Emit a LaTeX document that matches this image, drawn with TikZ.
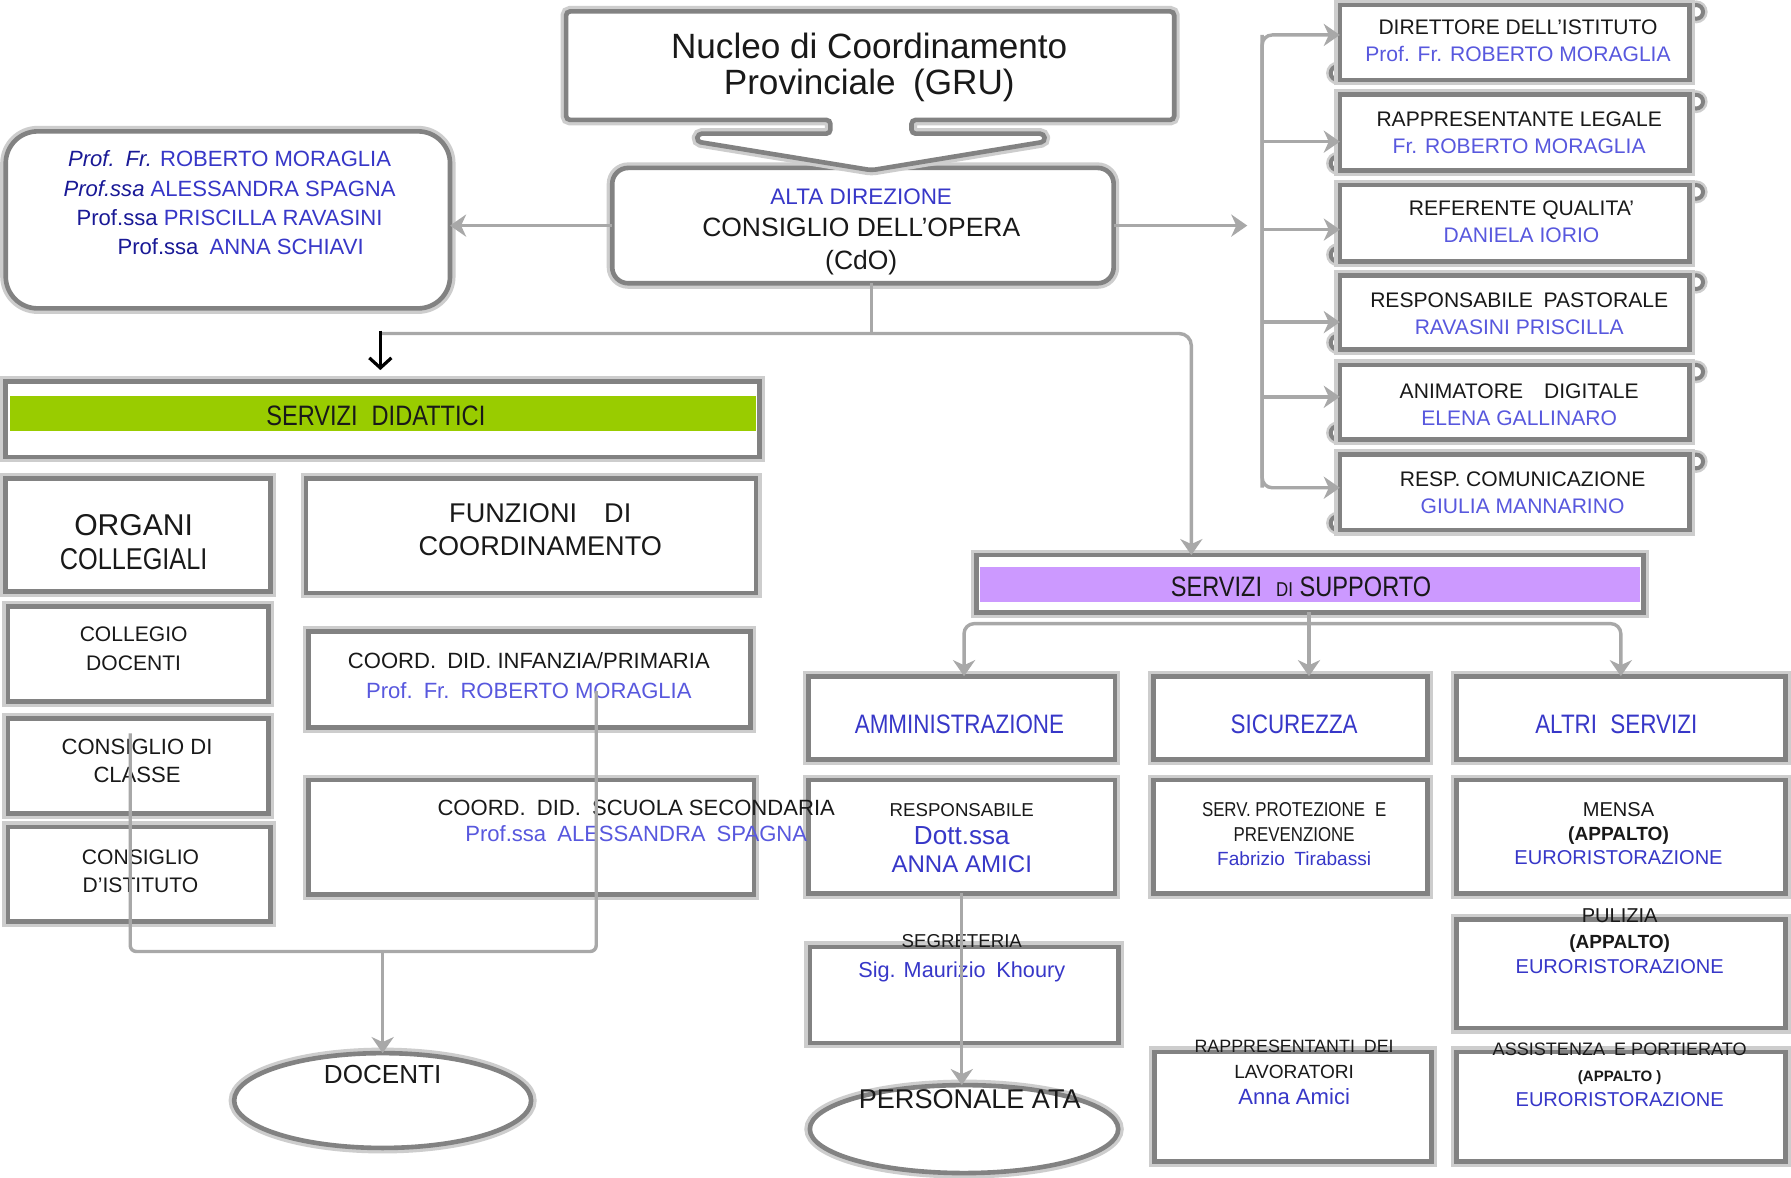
\documentclass[tikz,border=0pt]{standalone}
\usepackage{fontspec}
\setmainfont{Liberation Sans}
\newfontfamily\cnd{Liberation Sans}[FakeStretch=0.84]
\usetikzlibrary{arrows.meta,shapes.geometric,shapes.misc}
\definecolor{bordergray}{RGB}{130,130,130}
\definecolor{halo}{RGB}{205,205,205}
\definecolor{linegray}{RGB}{168,168,168}
\definecolor{didgreen}{RGB}{153,204,0}
\definecolor{suppurple}{RGB}{204,153,255}
\definecolor{nameblue}{RGB}{55,55,200}
\definecolor{darkblue}{RGB}{25,25,150}
\definecolor{lightblue}{RGB}{88,88,222}
\definecolor{txt}{RGB}{25,25,25}
\newcommand\fs[2]{\fontsize{#1}{#2}\selectfont}
\newcommand\mkbox[6]{\node[#6, minimum width={(#4-#2)*0.02cm}, minimum height={(#5-#3)*0.02cm}] (#1) at ({(#2+#4)/2},{(#3+#5)/2}) {};}
\newcommand\mkrb[3]{%
  \draw[curl] (1485,{#2+6}) circle (0.12cm);
  \draw[curl] (1171,{#3-6}) circle (0.12cm);
  \mkbox{#1}{1173}{#2}{1479}{#3}{bx}}
\tikzset{
  bx/.style={rectangle, draw=bordergray, line width=2.3pt, fill=white, inner sep=0pt, outer sep=0pt, preaction={draw=halo, line width=5.5pt}},
  rbx/.style={bx, rounded corners=0.56cm},
  cbx/.style={bx, rounded corners=0.28cm},
  fbx/.style={bx, chamfered rectangle, chamfered rectangle corners=south east, chamfered rectangle xsep=0.15cm, chamfered rectangle ysep=0.15cm},
  ebx/.style={bx, ellipse},
  band/.style={rectangle, inner sep=0pt, outer sep=0pt, draw=none},
  curl/.style={draw=bordergray, line width=2pt, fill=white, preaction={draw=halo, line width=4.5pt}},
  nuc/.style={draw=bordergray, line width=2.3pt, fill=white, preaction={draw=halo, line width=5.5pt}, rounded corners=2pt},
  lbl/.style={inner sep=0pt, align=center, text=txt},
  gline/.style={draw=linegray, line width=1.7pt},
  garr/.style={gline, -{Stealth[length=8pt,width=11pt,inset=2.5pt]}},
  barr/.style={draw=black, line width=1.6pt, -{Straight Barb[length=5pt,width=11pt,line width=1.6pt]}},
}
\begin{document}
\begin{tikzpicture}[x=0.02cm, y=-0.02cm]
\fill[white] (0,0) rectangle (1568,1031);
\useasboundingbox (0,0) rectangle (1568,1031);

% --- top part
\mkbox{cdo}{536}{147}{975}{248}{cbx}
\path[nuc] (495.6,10) -- (1028,10) -- (1028,105) -- (798,105) -- (798,117) -- (914,117) -- (915,124)
  -- (763,149) -- (610,124) -- (611,117) -- (727,117) -- (727,105) -- (495.6,105) -- cycle;
\mkbox{lbox}{5}{115}{394}{270}{rbx}

% --- right column
\mkrb{rb1}{4.4}{70}
\mkrb{rb2}{83}{149}
\mkrb{rb3}{162}{229}
\mkrb{rb4}{241}{306}
\mkrb{rb5}{319.5}{385}
\mkrb{rb6}{398}{464}

% --- servizi didattici
\mkbox{did}{5}{334}{665}{400}{bx}
\mkbox{didband}{8.7}{347}{662}{377}{band, fill=didgreen}
\mkbox{organi}{5}{419}{237}{518}{fbx}
\mkbox{funz}{268}{419}{662}{519}{fbx}
\mkbox{collegio}{7}{531}{235}{614}{bx}
\mkbox{consclasse}{7}{629}{235}{712}{bx}
\mkbox{consist}{7}{724}{237}{807}{bx}
\mkbox{coord1}{270}{553}{657}{637}{bx}
\mkbox{coord2}{270}{683}{660}{783}{bx}
\mkbox{docenti}{205}{922}{465}{1005}{ebx}

% --- servizi di supporto
\mkbox{supp}{855}{486}{1439}{536}{bx}
\mkbox{suppband}{858}{496}{1436}{527}{band, fill=suppurple}
\mkbox{ammin}{708}{592}{976}{665}{fbx}
\mkbox{sicur}{1010}{592}{1250}{665}{fbx}
\mkbox{altri}{1275}{592}{1563}{665}{fbx}
\mkbox{resp}{708}{683}{976}{782}{bx}
\mkbox{serv}{1010}{683}{1250}{782}{bx}
\mkbox{mensa}{1275}{683}{1563}{782}{bx}
\mkbox{segr}{709}{829}{979}{913}{bx}
\mkbox{ata}{709}{950}{979}{1027}{ebx}
\mkbox{puliz}{1275}{805}{1563}{900}{bx}
\mkbox{rappr}{1011}{921}{1253}{1017}{bx}
\mkbox{assist}{1275}{921}{1563}{1017}{bx}

% --- texts
\node[lbl, font={\fs{17.5pt}{18.2pt}}] (t_nuc) at (761,59) {Nucleo di Coordinamento\\Provinciale\enspace(GRU)};
\node[lbl, font={\fs{13.2pt}{16pt}}] (t_cdo) at (754,203) {\textcolor{nameblue}{\fs{11.2pt}{16pt}ALTA DIREZIONE}\\CONSIGLIO DELL’OPERA\\(CdO)};
\node[lbl, font={\fs{11pt}{14.5pt}}, text=nameblue] (t_left) at (201,177.5)
  {\textcolor{darkblue}{\itshape Prof.\enspace Fr.} ROBERTO MORAGLIA\\
   \textcolor{darkblue}{\itshape Prof.ssa} ALESSANDRA SPAGNA\\
   \textcolor{darkblue}{Prof.ssa} PRISCILLA RAVASINI\\
   \hspace*{1em}\textcolor{darkblue}{Prof.ssa}\enspace ANNA SCHIAVI};

\node[lbl, font={\fs{10.5pt}{13.4pt}}] (t_rb1) at (1329,35.5) {DIRETTORE DELL’ISTITUTO\\\textcolor{lightblue}{Prof. Fr. ROBERTO MORAGLIA}};
\node[lbl, font={\fs{10.5pt}{13.4pt}}] (t_rb2) at (1330,116) {RAPPRESENTANTE LEGALE\\\textcolor{lightblue}{Fr. ROBERTO MORAGLIA}};
\node[lbl, font={\fs{10.5pt}{13.4pt}}] (t_rb3) at (1332,194.5) {REFERENTE QUALITA’\\\textcolor{lightblue}{DANIELA IORIO}};
\node[lbl, font={\fs{10.5pt}{13.4pt}}] (t_rb4) at (1330,275) {RESPONSABILE\enspace PASTORALE\\\textcolor{lightblue}{RAVASINI PRISCILLA}};
\node[lbl, font={\fs{10.5pt}{13.4pt}}] (t_rb5) at (1330,354) {ANIMATORE\enspace\enspace DIGITALE\\\textcolor{lightblue}{ELENA GALLINARO}};
\node[lbl, font={\fs{10.5pt}{13.4pt}}] (t_rb6) at (1333,431) {RESP. COMUNICAZIONE\\\textcolor{lightblue}{GIULIA MANNARINO}};

\node[lbl, font={\cnd\fs{14pt}{16pt}}] (t_did) at (329,364) {SERVIZI\enspace DIDATTICI};
\node[lbl, font={\fs{15pt}{17pt}}] (t_org) at (117,475) {ORGANI\\{\cnd COLLEGIALI}};
\node[lbl, font={\fs{13.5pt}{16.6pt}}] (t_funz) at (473,464) {FUNZIONI\enspace\enspace DI\\COORDINAMENTO};
\node[lbl, font={\fs{10.5pt}{14.5pt}}] (t_coll) at (117,568) {COLLEGIO\\DOCENTI};
\node[lbl, font={\fs{11pt}{14pt}}] (t_ccl) at (120,666) {CONSIGLIO DI\\CLASSE};
\node[lbl, font={\fs{10.5pt}{14pt}}] (t_cis) at (123,763) {CONSIGLIO\\D’ISTITUTO};
\node[lbl, font={\fs{11pt}{14.5pt}}] (t_c1) at (463,591.5) {COORD.\enspace DID. INFANZIA/PRIMARIA\\\textcolor{lightblue}{Prof.\enspace Fr.\enspace ROBERTO MORAGLIA}};
\node[lbl, font={\fs{11pt}{13pt}}] (t_c2) at (557,719) {COORD.\enspace DID.\enspace SCUOLA SECONDARIA\\\textcolor{lightblue}{Prof.ssa\enspace ALESSANDRA\enspace SPAGNA}};
\node[lbl, font={\fs{13pt}{15pt}}] (t_doc) at (335,941) {DOCENTI};

\node[lbl, font={\cnd\fs{14pt}{16pt}}] (t_supp) at (1139,514) {SERVIZI\enspace{\fs{10pt}{16pt}DI} SUPPORTO};
\node[lbl, font={\cnd\fs{13.3pt}{16pt}}, text=nameblue] (t_amm) at (840,634) {AMMINISTRAZIONE};
\node[lbl, font={\cnd\fs{13.3pt}{16pt}}, text=nameblue] (t_sic) at (1133,634) {SICUREZZA};
\node[lbl, font={\cnd\fs{13.3pt}{16pt}}, text=nameblue] (t_alt) at (1415,634) {ALTRI\enspace SERVIZI};
\node[lbl, font={\fs{9.3pt}{14pt}}] (t_resp) at (842,733.5) {RESPONSABILE\\\textcolor{nameblue}{\fs{13pt}{14pt}Dott.ssa}\\\textcolor{nameblue}{\fs{12pt}{14pt}ANNA AMICI}};
\node[lbl, font={\fs{10pt}{12.2pt}}] (t_serv) at (1133,730.5) {{\cnd SERV. PROTEZIONE\enspace E}\\{\cnd PREVENZIONE}\\\textcolor{nameblue}{\fs{9.5pt}{12.2pt}Fabrizio\enspace Tirabassi}};
\node[lbl, font={\fs{10pt}{12pt}}] (t_mensa) at (1417,730) {MENSA\\{\bfseries\fs{9.5pt}{12pt}(APPALTO)}\\\textcolor{nameblue}{EURORISTORAZIONE}};
\node[lbl, font={\fs{9.3pt}{15pt}}] (t_segr) at (842,839) {SEGRETERIA\\\textcolor{nameblue}{\fs{10.8pt}{15pt}Sig. Maurizio\enspace Khoury}};
\node[lbl, font={\fs{13.5pt}{15pt}}] (t_ata) at (849,962) {PERSONALE ATA};
\node[lbl, font={\fs{10pt}{12.5pt}}] (t_pul) at (1418,824) {PULIZIA\\{\bfseries\fs{9.5pt}{12.5pt}(APPALTO)}\\\textcolor{nameblue}{EURORISTORAZIONE}};
\node[lbl, font={\fs{8.9pt}{13pt}}] (t_rap) at (1133,939) {RAPPRESENTANTI\enspace DEI\\{\fs{9.5pt}{13pt}LAVORATORI}\\\textcolor{nameblue}{\fs{11pt}{13pt}Anna Amici}};
\node[lbl, font={\fs{9pt}{12.5pt}}] (t_ass) at (1418,941) {ASSISTENZA\enspace E PORTIERATO\\{\bfseries\fs{7.5pt}{12.5pt}(APPALTO )}\\\textcolor{nameblue}{\fs{10pt}{12.5pt}EURORISTORAZIONE}};

% --- connectors
\draw[garr] (cdo.west) -- (cdo.west -| lbox.east);
\coordinate (busin) at (1092,200);
\draw[garr] (cdo.east) -- (cdo.east -| busin);
\coordinate (b1) at (1105,30.6);
\coordinate (b2) at (1105,124);
\coordinate (b3) at (1105,201);
\coordinate (b4) at (1105,282);
\coordinate (b5) at (1105,347.4);
\coordinate (b6) at (1105,427);
\draw[garr, rounded corners=5pt] (b6) -- (b1) -- (b1 -| rb1.west);
\draw[garr, rounded corners=5pt] (b1) -- (b6) -- (b6 -| rb6.west);
\foreach \i in {2,3,4,5} { \draw[garr] (b\i) -- (b\i -| rb\i.west); }

\coordinate (j) at (763,292);
\coordinate (jl) at (333,292);
\coordinate (jr) at (1043,292);
\draw[gline] (cdo.south -| j) -- (j);
\draw[garr, rounded corners=6pt] (jl) -- (jr) -- (jr |- supp.north);
\coordinate (didtop) at ([yshift=0.2cm]did.north);
\draw[barr] ([yshift=0.05cm]jl) -- (didtop -| jl);

\coordinate (sb) at (1146,546);
\coordinate (sbl) at (844,546);
\coordinate (sbr) at (1419,546);
\draw[gline] (supp.south -| sb) -- (sb);
\draw[garr, rounded corners=5pt] (sb) -- (sbl) -- (sbl |- ammin.north);
\draw[garr, rounded corners=5pt] (sb) -- (sbr) -- (sbr |- altri.north);
\draw[garr] (sb) -- (sb |- sicur.north);

\coordinate (dl) at (114,642);
\coordinate (dr) at (522,605);
\coordinate (dm) at (335,833);
\draw[gline, rounded corners=3pt] (dl) |- (dr |- dm) -- (dr);
\draw[garr] (dm) -- (docenti.north);

\draw[garr] (resp.south) -- (resp.south |- ata.north);
\end{tikzpicture}
\end{document}
